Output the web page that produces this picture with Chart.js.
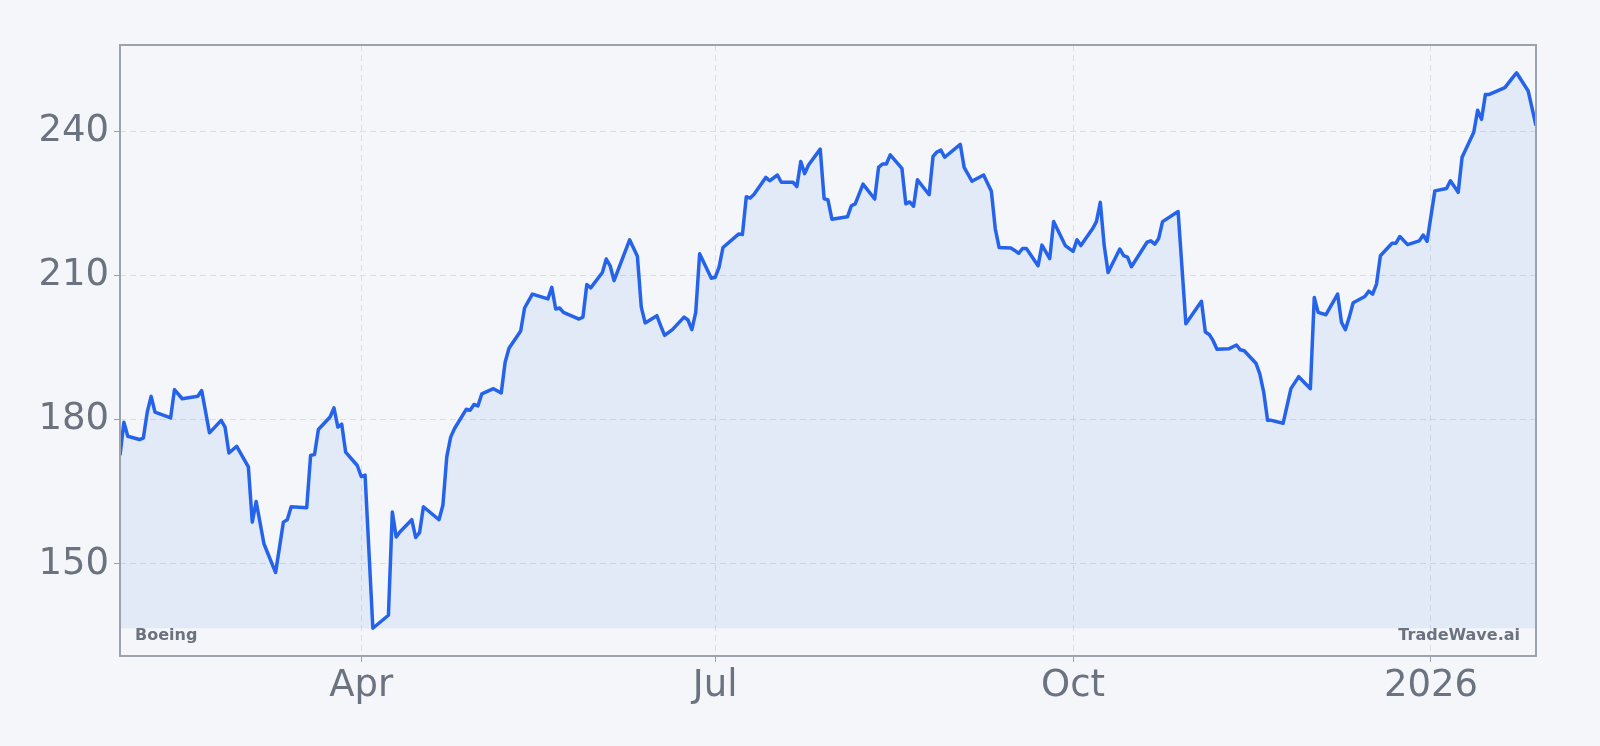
<!DOCTYPE html>
<html>
<head>
<meta charset="utf-8">
<script src="https://cdn.jsdelivr.net/npm/chart.js@4.4.1/dist/chart.umd.min.js"></script>
<style>
  html, body { margin: 0; padding: 0; background: #f4f6f9; }
  #wrap { width: 1600px; height: 746px; position: relative; }
</style>
</head>
<body>
<div id="wrap"><canvas id="chart"></canvas></div>
<script>
// Boeing closing prices
const dates = [
  "2025-01-29", "2025-01-30", "2025-01-31",
  "2025-02-03", "2025-02-04", "2025-02-05", "2025-02-06", "2025-02-07", "2025-02-11", "2025-02-12", "2025-02-14",
  "2025-02-18", "2025-02-19", "2025-02-21", "2025-02-24", "2025-02-25", "2025-02-26", "2025-02-28",
  "2025-03-03", "2025-03-04", "2025-03-05", "2025-03-07", "2025-03-10", "2025-03-12", "2025-03-13", "2025-03-14",
  "2025-03-18", "2025-03-19", "2025-03-20", "2025-03-21", "2025-03-24", "2025-03-25", "2025-03-26", "2025-03-27",
  "2025-03-28", "2025-03-31",
  "2025-04-01", "2025-04-02", "2025-04-04", "2025-04-08", "2025-04-09", "2025-04-10", "2025-04-11", "2025-04-14",
  "2025-04-15", "2025-04-16", "2025-04-17", "2025-04-21", "2025-04-22", "2025-04-23", "2025-04-24", "2025-04-25",
  "2025-04-28", "2025-04-29", "2025-04-30",
  "2025-05-01", "2025-05-02", "2025-05-05", "2025-05-07", "2025-05-08", "2025-05-09", "2025-05-12", "2025-05-13",
  "2025-05-15", "2025-05-19", "2025-05-20", "2025-05-21", "2025-05-22", "2025-05-23", "2025-05-27", "2025-05-28",
  "2025-05-29", "2025-05-30",
  "2025-06-02", "2025-06-03", "2025-06-04", "2025-06-05", "2025-06-09", "2025-06-11", "2025-06-12", "2025-06-13",
  "2025-06-16", "2025-06-17", "2025-06-18", "2025-06-20", "2025-06-23", "2025-06-24", "2025-06-25", "2025-06-26",
  "2025-06-27", "2025-06-30",
  "2025-07-01", "2025-07-02", "2025-07-03", "2025-07-07", "2025-07-08", "2025-07-09", "2025-07-10", "2025-07-11",
  "2025-07-14", "2025-07-15", "2025-07-17", "2025-07-18", "2025-07-21", "2025-07-22", "2025-07-23", "2025-07-24",
  "2025-07-25", "2025-07-28", "2025-07-29", "2025-07-30", "2025-07-31",
  "2025-08-04", "2025-08-05", "2025-08-06", "2025-08-08", "2025-08-11", "2025-08-12", "2025-08-13", "2025-08-14",
  "2025-08-15", "2025-08-18", "2025-08-19", "2025-08-20", "2025-08-21", "2025-08-22", "2025-08-25", "2025-08-26",
  "2025-08-27", "2025-08-28", "2025-08-29",
  "2025-09-02", "2025-09-03", "2025-09-05", "2025-09-08", "2025-09-09", "2025-09-10", "2025-09-11", "2025-09-12",
  "2025-09-15", "2025-09-16", "2025-09-17", "2025-09-18", "2025-09-19", "2025-09-22", "2025-09-23", "2025-09-25",
  "2025-09-26", "2025-09-29",
  "2025-10-01", "2025-10-02", "2025-10-03", "2025-10-06", "2025-10-07", "2025-10-08", "2025-10-09", "2025-10-10",
  "2025-10-13", "2025-10-14", "2025-10-15", "2025-10-16", "2025-10-20", "2025-10-21", "2025-10-22", "2025-10-23",
  "2025-10-24", "2025-10-28", "2025-10-30",
  "2025-11-03", "2025-11-04", "2025-11-05", "2025-11-06", "2025-11-07", "2025-11-10", "2025-11-12", "2025-11-13",
  "2025-11-14", "2025-11-17", "2025-11-18", "2025-11-19", "2025-11-20", "2025-11-21", "2025-11-24", "2025-11-26",
  "2025-11-28",
  "2025-12-01", "2025-12-02", "2025-12-03", "2025-12-05", "2025-12-08", "2025-12-09", "2025-12-10", "2025-12-11",
  "2025-12-12", "2025-12-15", "2025-12-16", "2025-12-17", "2025-12-18", "2025-12-19", "2025-12-22", "2025-12-23",
  "2025-12-24", "2025-12-26", "2025-12-29", "2025-12-30", "2025-12-31",
  "2026-01-02", "2026-01-05", "2026-01-06", "2026-01-08", "2026-01-09", "2026-01-12", "2026-01-13", "2026-01-14",
  "2026-01-15", "2026-01-16", "2026-01-20", "2026-01-22", "2026-01-23", "2026-01-26", "2026-01-28"
];

const prices = [
  172.6, 179.5, 176.6,
  175.9, 176.2, 181.6, 184.9, 181.6, 180.4, 186.3, 184.4,
  184.9, 186.1, 177.3, 179.9, 178.5, 173.1, 174.5,
  170.2, 158.7, 163.0, 154.2, 148.2, 158.7, 159.2, 161.9,
  161.7, 172.6, 172.8, 178.0, 180.6, 182.5, 178.5, 179.1,
  173.3, 170.5,
  168.2, 168.5, 136.6, 139.3, 160.8, 155.6, 156.7, 159.2,
  155.5, 156.5, 161.9, 159.2, 162.2, 172.3, 176.4, 178.2,
  182.2, 182.0, 183.2,
  182.9, 185.4, 186.5, 185.6, 192.0, 194.9, 198.5, 203.3,
  206.2, 205.2, 207.6, 203.1, 203.3, 202.4, 201.0, 201.4,
  208.2, 207.5,
  210.7, 213.5, 212.1, 209.0, 217.5, 214.1, 203.5, 200.2,
  201.7, 199.6, 197.6, 198.8, 201.4, 200.8, 198.8, 202.4,
  214.6, 209.5,
  209.7, 211.8, 215.9, 218.7, 218.6, 226.5, 226.2, 227.0,
  230.5, 229.8, 231.0, 229.5, 229.5, 228.6, 233.8, 231.3,
  233.1, 236.4, 226.1, 225.8, 221.8,
  222.3, 224.6, 225.0, 229.1, 226.0, 232.6, 233.3, 233.3,
  235.2, 232.4, 225.0, 225.4, 224.5, 230.0, 226.9, 234.9,
  235.8, 236.2, 234.7,
  237.4, 232.6, 229.7, 231.0, 229.3, 227.6, 219.8, 215.9,
  215.8, 215.3, 214.7, 215.7, 215.7, 212.1, 216.4, 213.6,
  221.3, 216.3,
  215.1, 217.5, 216.3, 219.8, 221.3, 225.3, 216.3, 210.7,
  215.6, 214.2, 213.9, 211.9, 217.0, 217.3, 216.6, 217.8,
  221.3, 223.4, 200.0,
  204.7, 198.3, 197.8, 196.5, 194.7, 194.8, 195.6, 194.6,
  194.4, 191.8, 189.6, 185.8, 179.9, 179.9, 179.3, 186.5,
  189.0,
  186.5, 205.5, 202.4, 201.9, 206.2, 200.3, 198.8, 201.4,
  204.4, 205.7, 206.8, 206.2, 208.3, 214.2, 216.8, 216.8,
  218.2, 216.5, 217.3, 218.5, 217.2,
  227.7, 228.2, 229.8, 227.4, 234.7, 239.9, 244.5, 242.6,
  247.8, 247.8, 249.2, 251.3, 252.3, 248.5, 241.3
];

const tickDates = ["2025-04-01", "2025-07-01", "2025-10-01", "2026-01-01"];
const tickLabels = ["Apr", "Jul", "Oct", "2026"];
const yTicks = [150, 180, 210, 240];
const symbol = "Boeing";
const brand = "TradeWave.ai";

const dayOf = (s) => {
  const [y, m, d] = s.split("-").map(Number);
  return (Date.UTC(y, m - 1, d) - Date.UTC(2025, 0, 1)) / 86400000;
};

const points = dates.map((d, i) => ({ x: dayOf(d), y: prices[i] }));
const tickDays = tickDates.map(dayOf);

const lo = Math.min(...prices);
const hi = Math.max(...prices);
const pad = (hi - lo) * 0.05;

Chart.defaults.font.family = "'DejaVu Sans', sans-serif";

// plot frame + the two small captions inside the bottom corners
const framePlugin = {
  id: "frame",
  afterDatasetsDraw(chart) {
    const { ctx, chartArea: a } = chart;
    ctx.save();
    ctx.strokeStyle = "#9ca3af";
    ctx.lineWidth = 2;
    ctx.strokeRect(a.left, a.top, a.right - a.left, a.bottom - a.top);
    ctx.fillStyle = "#6b7280";
    ctx.font = "bold 16px 'DejaVu Sans', sans-serif";
    ctx.textBaseline = "alphabetic";
    ctx.textAlign = "left";
    ctx.fillText(symbol, a.left + 15, a.bottom - 16);
    ctx.textAlign = "right";
    ctx.fillText(brand, a.right - 16, a.bottom - 16);
    ctx.restore();
  },
};

new Chart(document.getElementById("chart"), {
  type: "line",
  data: {
    datasets: [
      {
        label: symbol,
        data: points,
        borderColor: "#2563eb",
        borderWidth: 3.5,
        borderJoinStyle: "round",
        backgroundColor: "rgba(37, 99, 235, 0.085)",
        fill: { value: lo },
        pointRadius: 0,
        tension: 0,
      },
    ],
  },
  options: {
    responsive: true,
    maintainAspectRatio: false,
    animation: false,
    devicePixelRatio: 1,
    layout: { padding: { top: 45, right: 64, left: 0, bottom: 0 } },
    plugins: {
      legend: { display: false },
      tooltip: { enabled: false },
    },
    scales: {
      x: {
        type: "linear",
        min: points[0].x,
        max: points[points.length - 1].x,
        afterBuildTicks: (scale) => {
          scale.ticks = tickDays.map((v) => ({ value: v }));
        },
        afterFit: (scale) => {
          scale.height = 90;
        },
        ticks: {
          color: "#6b7280",
          font: { size: 37 },
          padding: 2,
          maxRotation: 0,
          autoSkip: false,
          callback: (v) => tickLabels[tickDays.indexOf(v)],
        },
        grid: { color: "#dadee4", tickLength: 6, tickColor: "#9ca3af" },
        border: { display: false, dash: [6, 4] },
      },
      y: {
        min: lo - pad,
        max: hi + pad,
        afterBuildTicks: (scale) => {
          scale.ticks = yTicks.map((v) => ({ value: v }));
        },
        afterFit: (scale) => {
          scale.width = 120;
        },
        ticks: {
          color: "#6b7280",
          font: { size: 37 },
          padding: 5,
        },
        grid: { color: "#dadee4", tickLength: 6, tickColor: "#9ca3af" },
        border: { display: false, dash: [6, 4] },
      },
    },
  },
  plugins: [framePlugin],
});
</script>
</body>
</html>
